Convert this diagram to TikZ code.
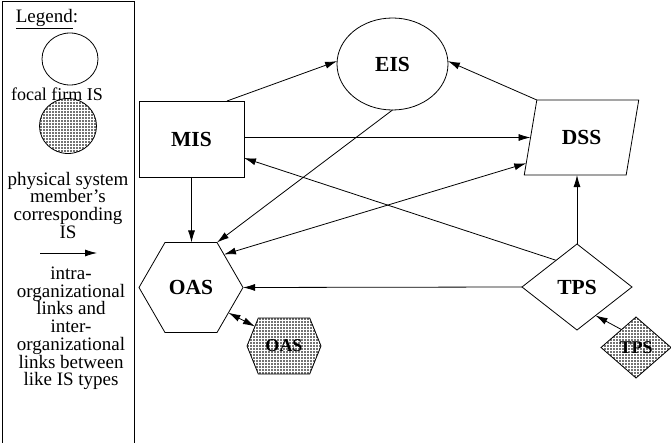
\documentclass[tikz,border=0pt]{standalone}
\usepackage{fontspec}
\setmainfont{Liberation Serif}
\usetikzlibrary{shapes.geometric,shapes.symbols,arrows.meta,patterns}
\begin{document}
\begin{tikzpicture}[x=1pt,y=-1pt,
  every node/.style={inner sep=0pt, outer sep=0pt},
  hatch/.style={preaction={fill=black!55}, pattern=grid, pattern color=white},
  sys/.style={draw, line width=0.8pt, font=\fontsize{21.5}{24}\selectfont\bfseries},
  member/.style={sys, hatch, font=\fontsize{18}{20}\selectfont\bfseries},
  link/.style={line width=0.8pt, -{Latex[length=12pt,width=7pt]}},
  dlink/.style={line width=0.8pt, {Latex[length=12pt,width=7pt]}-{Latex[length=12pt,width=7pt]}},
  legtext/.style={font=\fontsize{19}{17.7}\selectfont, align=center}]
\useasboundingbox (0,0) rectangle (671,443);

% legend frame
\draw[line width=0.8pt] (2,446) -- (2,1) -- (134,1) -- (134,446);
\node[font=\fontsize{19}{20}\selectfont] (legtitle) at (47,19) {\underline{Legend}:};
\node[draw, ellipse, line width=0.8pt, minimum width=56pt, minimum height=52pt] (legA) at (70,59) {};
\node[legtext, font=\fontsize{18}{17.7}\selectfont] (legAt) at (57,94) {focal firm IS};
\node[draw, ellipse, line width=0.8pt, minimum width=57pt, minimum height=55pt, hatch] (legB) at (68,126) {};
\node[legtext, anchor=north] (legBt) at (68,172) {physical system\\member’s\\corresponding\\IS};
\coordinate (la) at (40,253);
\coordinate (lb) at (97,253);
\draw[link] (la) -- (lb);
\node[legtext, anchor=north] (legCt) at (71,267) {intra-\\organizational\\links and\\inter-\\organizational\\links between\\like IS types};

% systems
\node[sys, ellipse, minimum width=111pt, minimum height=92pt] (EIS) at (392.5,64) {EIS};
\node[sys, rectangle, minimum width=105pt, minimum height=76pt] (MIS) at (191.5,139) {MIS};
\node[sys, trapezium, trapezium left angle=69, trapezium right angle=111, trapezium stretches=true,
      minimum width=115pt, minimum height=75pt] (DSS) at (581.5,137.5) {DSS};
\node[sys, regular polygon, regular polygon sides=6, minimum size=104pt] (OAS) at (191,287.5) {OAS};
\node[sys, diamond, minimum width=110pt, minimum height=86pt] (TPS) at (577,287) {TPS};
\node[member, signal, signal to=east and west, signal pointer angle=136,
      minimum width=74pt, minimum height=56pt] (sOAS) at (284,346) {OAS};
\node[member, diamond, minimum width=70pt, minimum height=61pt] (sTPS) at (636,347.5) {TPS};

% links
\draw[link] ([xshift=35.5pt]MIS.north) -- (EIS.177);
\draw[link] (DSS.top left corner) -- (EIS.3);
\draw[link] (MIS.east |- DSS.180) -- (DSS.180);
\draw[link] (MIS.south) -- (MIS.south |- OAS.90);
\draw[link] (EIS.south) -- (OAS.60);
\draw[dlink] (DSS.205) -- (OAS.45);
\draw[link] (TPS.128) -- ([yshift=-19pt]MIS.east);
\draw[link] (TPS.west) -- (OAS.0);
\draw[link] (TPS.north) -- (TPS.north |- DSS.south);
\draw[dlink] (OAS.-34) -- (sOAS.146);
\draw[link] (sTPS.129) -- (TPS.-57);
\end{tikzpicture}
\end{document}
